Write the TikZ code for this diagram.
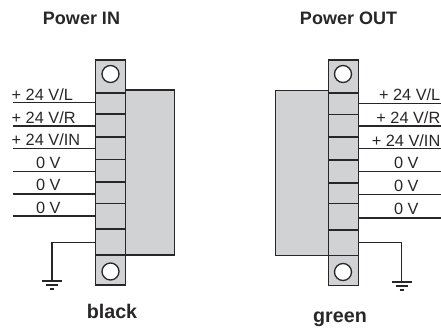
\documentclass[tikz,border=0pt]{standalone}
\usepackage{fontspec}
\setmainfont{Liberation Sans}
\definecolor{fillgray}{RGB}{208,210,211}
\definecolor{inkc}{RGB}{40,38,38}
\tikzset{x=1pt,y=-1pt,
  body/.style={draw=inkc,line width=1.3pt,fill=fillgray},
  wire/.style={draw=inkc,line width=1.3pt},
  hole/.style={draw=inkc,line width=1.3pt,fill=white,circle,minimum size=17pt,inner sep=0pt},
  lbl/.style={font=\fontsize{16.3}{18}\selectfont,text=inkc,inner sep=0pt,anchor=base},
  title/.style={font=\fontsize{18}{20}\bfseries\selectfont,text=inkc,inner sep=0pt,anchor=base},
  tag/.style={font=\fontsize{19.7}{22}\bfseries\selectfont,text=inkc,inner sep=0pt,anchor=base}}
\begin{document}
\begin{tikzpicture}
\useasboundingbox (0,0) rectangle (441,327);
% left connector
\draw[body] (125.5,90) rectangle (174.5,255);
\draw[body] (95.5,60) rectangle (125.5,285);
\foreach \y in {93,114,137,159.5,182,203.5,229,255}
  \draw[wire] (95.5,\y) -- (125.5,\y);
\node[hole] (hl1) at (110.5,74) {};
\node[hole] (hl2) at (110.5,271.5) {};
\foreach \n/\y in {a/102.7,b/126,c/148.3,d/171.3,e/194,f/216}{
  \coordinate (l\n) at (95.5,\y);
  \coordinate (ls\n) at (12.5,\y);
  \draw[wire] (ls\n) -- (l\n);
}
\coordinate (lg) at (95.5,242.3);
\coordinate (lgb) at (52,281);
\draw[wire] (lg) -| (lgb);
\draw[wire] (42,281) -- (61.5,281);
\draw[wire] (46,285) -- (57.5,285);
\draw[wire] (50,289) -- (54,289);
\node[lbl,anchor=base west] (t1) at (11.5,100) {+ 24 V/L};
\node[lbl,anchor=base west] (t2) at (11.5,123) {+ 24 V/R};
\node[lbl,anchor=base west] (t3) at (11.5,145.5) {+ 24 V/IN};
\node[lbl] (t4) at (48.3,168) {0 V};
\node[lbl] (t5) at (48.3,190.5) {0 V};
\node[lbl] (t6) at (48.3,213) {0 V};
\node[title] (pin) at (81.5,24) {Power IN};
\node[tag] (blk) at (112,318) {black};
% right connector
\draw[body] (275.5,90.5) rectangle (328.5,255.5);
\draw[body] (328.5,60) rectangle (358.5,285.3);
\foreach \y in {93,114.3,137,160,183,203.5,230,255.5}
  \draw[wire] (328.5,\y) -- (358.5,\y);
\node[hole] (hr1) at (343,74) {};
\node[hole] (hr2) at (343,272) {};
\foreach \n/\y in {a/103.3,b/126,c/148.5,d/171.5,e/194.3,f/218}{
  \coordinate (r\n) at (358.5,\y);
  \coordinate (rs\n) at (441,\y);
  \draw[wire] (r\n) -- (rs\n);
}
\coordinate (rg) at (358.5,242.5);
\coordinate (rgb) at (401.7,282);
\draw[wire] (rg) -| (rgb);
\draw[wire] (392,282) -- (411.5,282);
\draw[wire] (396,286) -- (407.5,286);
\draw[wire] (399.5,290) -- (403.5,290);
\node[lbl,anchor=base east] (u1) at (440.5,100.5) {+ 24 V/L};
\node[lbl,anchor=base east] (u2) at (440.5,123) {+ 24 V/R};
\node[lbl,anchor=base east] (u3) at (440.5,146) {+ 24 V/IN};
\node[lbl] (u4) at (406.3,168.5) {0 V};
\node[lbl] (u5) at (406.3,191) {0 V};
\node[lbl] (u6) at (406.3,214.5) {0 V};
\node[title] (pout) at (348.5,24) {Power OUT};
\node[tag] (grn) at (340,322) {green};
\end{tikzpicture}
\end{document}
